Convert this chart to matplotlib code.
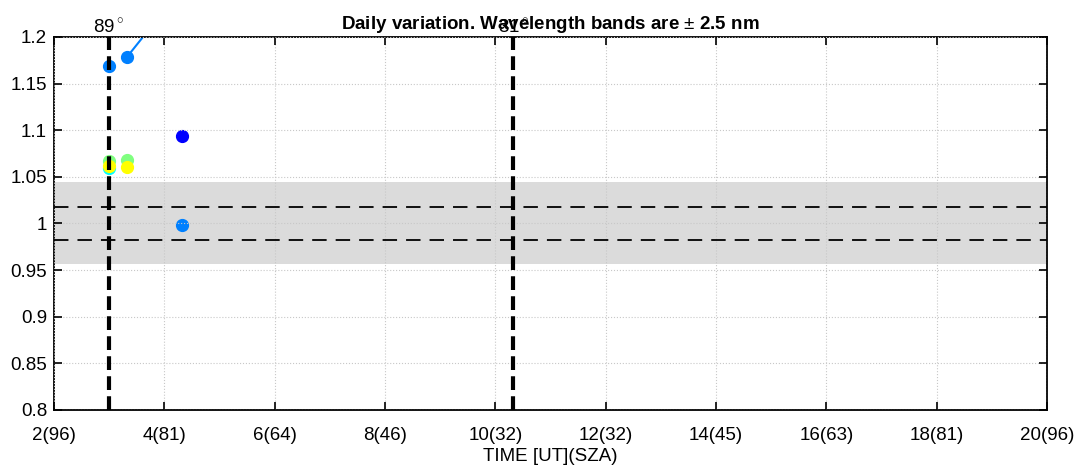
import numpy as np
import matplotlib
matplotlib.use("Agg")
import matplotlib.pyplot as plt

plt.rcParams["font.family"] = ["Liberation Sans", "DejaVu Sans"]
plt.rcParams["mathtext.fontset"] = "custom"
plt.rcParams["mathtext.rm"] = "Liberation Sans"

# ==========================================================
# Data
# ==========================================================

xticks = [2, 4, 6, 8, 10, 12, 14, 16, 18, 20]
xtick_labels = ["2(96)", "4(81)", "6(64)", "8(46)", "10(32)",
                "12(32)", "14(45)", "16(63)", "18(81)", "20(96)"]
yticks = [0.8, 0.85, 0.9, 0.95, 1.0, 1.05, 1.1, 1.15, 1.2]
ytick_labels = ["0.8", "0.85", "0.9", "0.95", "1", "1.05", "1.1", "1.15", "1.2"]

# jet(8) colours, drawn in this order
series_colors = [
    (0.0, 0.0, 1.0),
    (0.0, 0.5, 1.0),
    (0.0, 1.0, 1.0),
    (0.5, 1.0, 0.5),
    (1.0, 1.0, 0.0),
]
series_time = [
    [4.33],
    [3.0, 4.33],
    [3.0],
    [3.0, 3.33],
    [3.0, 3.33],
]
series_ratio = [
    [1.094],
    [1.169, 0.998],
    [1.060],
    [1.067, 1.068],
    [1.062, 1.061],
]

# connected blue segment (second point is off the top)
seg_time = [3.33, 4.33]
seg_ratio = [1.179, 1.253]

band_lo, band_hi = 0.956, 1.044
dash_lo, dash_hi = 0.982, 1.018

sza_time = [3.0, 10.33]
sza_labels = ["89$^\\circ$", "31$^\\circ$"]

# ==========================================================
# Plot
# ==========================================================

fs = 13.5

fig = plt.figure(figsize=(10.79, 4.68), dpi=100)
ax = fig.add_axes([0.05, 0.124, 0.9203, 0.797])

ax.axhspan(band_lo, band_hi, color="#dbdbdb", lw=0, zorder=1)

ax.plot(seg_time, seg_ratio, "-o", color=series_colors[1], lw=1.5,
        ms=8.5, zorder=2)

for c, t, r in zip(series_colors, series_time, series_ratio):
    ax.plot(t, r, "o", color=c, ms=8.5, zorder=2)

for yy in [dash_lo, dash_hi]:
    ax.axhline(yy, color="black", ls=(0, (8, 5)), lw=1.3, zorder=3)

for t, lab in zip(sza_time, sza_labels):
    ax.axvline(t, color="black", ls=(0, (3.3, 1.5)), lw=3, zorder=3)
    ax.text(t, 1.2005, lab, ha="center", va="bottom", fontsize=fs)

ax.set_xlim(2, 20)
ax.set_ylim(0.8, 1.2)
ax.set_xticks(xticks)
ax.set_xticklabels(xtick_labels)
ax.set_yticks(yticks)
ax.set_yticklabels(ytick_labels)

ax.set_axisbelow(False)
ax.grid(True, ls=":", color="#c8c8c8", lw=0.8)

ax.tick_params(direction="in", top=True, right=True, length=6, width=1.2,
               labelsize=fs)
ax.tick_params(axis="y", pad=5)
ax.tick_params(axis="x", pad=12)
for s in ax.spines.values():
    s.set_linewidth(1.3)

ax.set_xlabel("TIME [UT](SZA)", fontsize=fs, labelpad=3)
ax.set_title("Daily variation. Wavelength bands are $\\pm$ 2.5 nm",
             fontsize=fs, fontweight="bold", pad=6)

fig.savefig("out.png", dpi=100)
